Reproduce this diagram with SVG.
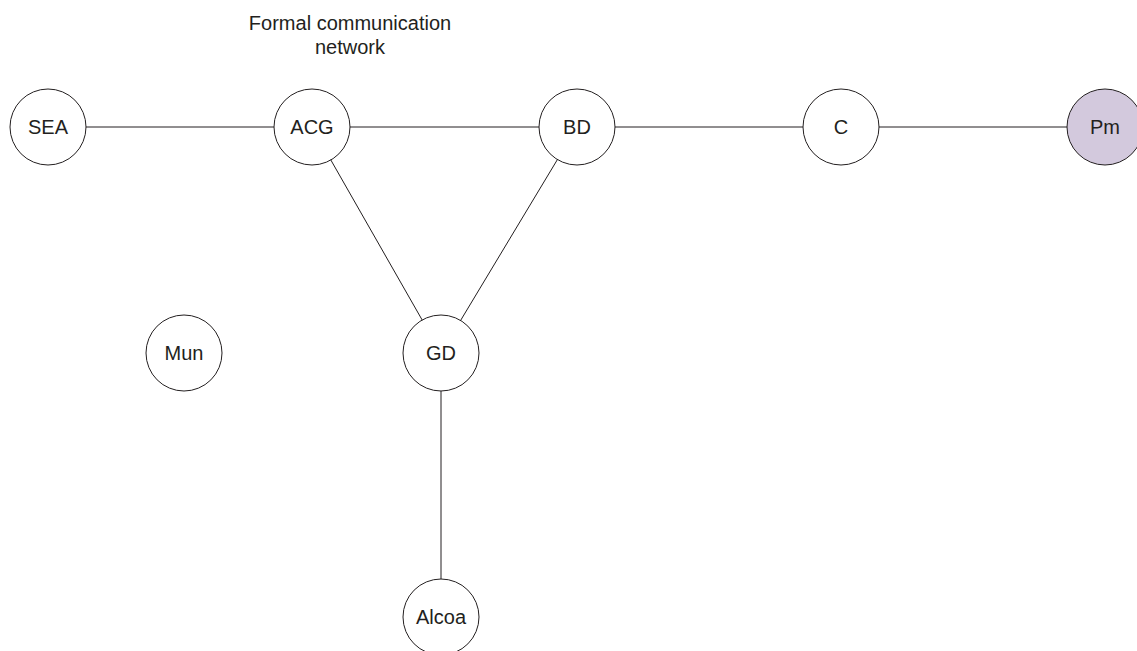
<svg xmlns="http://www.w3.org/2000/svg" width="1137" height="651" viewBox="0 0 1137 651">
<style>
.n{fill:#fff;stroke:#231f20;stroke-width:1}
.p{fill:#d3c9dd}
.t{font-family:"Liberation Sans",Arial,sans-serif;font-size:20px;fill:#231f20;text-anchor:middle}
.e{stroke:#231f20;stroke-width:1;fill:none}
</style>
<rect width="1137" height="651" fill="#fff"/>
<text class="t" x="350" y="30">Formal communication</text>
<text class="t" x="350" y="54">network</text>
<g id="connectors">
<line class="e" x1="48" y1="127" x2="312" y2="127"/>
<line class="e" x1="312" y1="127" x2="577" y2="127"/>
<line class="e" x1="577" y1="127" x2="841" y2="127"/>
<line class="e" x1="841" y1="127" x2="1105" y2="127"/>
<line class="e" x1="312" y1="127" x2="441" y2="353"/>
<line class="e" x1="577" y1="127" x2="441" y2="353"/>
<line class="e" x1="441" y1="353" x2="441" y2="617"/>
</g>
<g id="SEA"><circle class="n" cx="48" cy="127" r="38"/><text class="t" x="48" y="134">SEA</text></g>
<g id="ACG"><circle class="n" cx="312" cy="127" r="38"/><text class="t" x="312" y="134">ACG</text></g>
<g id="BD"><circle class="n" cx="577" cy="127" r="38"/><text class="t" x="577" y="134">BD</text></g>
<g id="C"><circle class="n" cx="841" cy="127" r="38"/><text class="t" x="841" y="134">C</text></g>
<g id="Pm"><circle class="n p" cx="1105" cy="127" r="38"/><text class="t" x="1105" y="134">Pm</text></g>
<g id="Mun"><circle class="n" cx="184" cy="353" r="38"/><text class="t" x="184" y="360">Mun</text></g>
<g id="GD"><circle class="n" cx="441" cy="353" r="38"/><text class="t" x="441" y="360">GD</text></g>
<g id="Alcoa"><circle class="n" cx="441" cy="617" r="38"/><text class="t" x="441" y="624">Alcoa</text></g>
</svg>
